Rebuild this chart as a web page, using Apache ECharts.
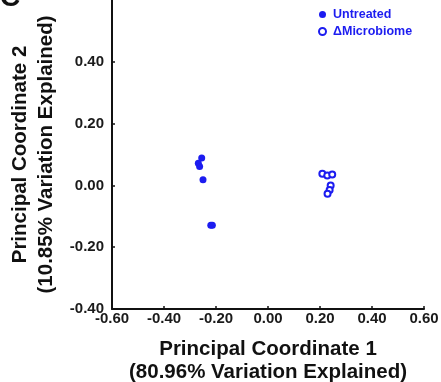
<!DOCTYPE html>
<html><head><meta charset="utf-8">
<script src="https://cdn.jsdelivr.net/npm/echarts@6/dist/echarts.min.js"></script>
<style>html,body{margin:0;padding:0;background:#fff}#c{width:441px;height:382px}</style>
</head><body><div id="c"></div>
<script>
const untreatedX = [-0.255, -0.268, -0.263, -0.250, -0.220, -0.214];
const untreatedY = [0.089, 0.072, 0.061, 0.018, -0.129, -0.129];
const microbiomeX = [0.209, 0.228, 0.247, 0.241, 0.237, 0.229];
const microbiomeY = [0.038, 0.032, 0.035, 0.000, -0.015, -0.027];
const seriesNames = ['Untreated', '\u0394Microbiome'];
const xTitle = 'Principal Coordinate 1\n(80.96% Variation Explained)';
const yTitle = 'Principal Coordinate 2\n(10.85% Variation Explained)';

const blue = '#1c1cf0';
const font = '"Liberation Sans", Arial, sans-serif';
const chart = echarts.init(document.getElementById('c'));
const zip = (a, b) => a.map((v, i) => [v, b[i]]);
chart.setOption({
  animation: false,
  backgroundColor: '#fff',
  graphic: [{type: 'text', left: 0, top: -16, style: {text: 'C', font: 'bold 28px ' + font, fill: '#111'}}],
  legend: {
    orient: 'vertical', left: 313, top: 3, itemWidth: 7, itemHeight: 7, itemGap: 4,
    data: seriesNames,
    textStyle: {color: blue, fontWeight: 'bold', fontSize: 12.5, fontFamily: font, padding: [0, 0, 0, 2]}
  },
  grid: {left: 112, right: 17, top: 0, bottom: 73, outerBoundsMode: 'none', containLabel: false},
  xAxis: {
    type: 'value', min: -0.6, max: 0.6, interval: 0.2,
    name: xTitle, nameLocation: 'middle', nameGap: 29,
    nameTextStyle: {fontSize: 20.5, fontWeight: 'bold', fontFamily: font, color: '#111', lineHeight: 23, verticalAlign: 'top'},
    axisLine: {onZero: false, lineStyle: {color: '#111', width: 2}},
    axisTick: {inside: true, length: 3, lineStyle: {color: '#111', width: 1.5}},
    axisLabel: {formatter: v => v.toFixed(2), fontSize: 15, fontWeight: 'bold', fontFamily: font, color: '#1a1a1a', margin: 2},
    splitLine: {show: false}
  },
  yAxis: {
    type: 'value', min: -0.4, max: 0.6, interval: 0.2,
    name: yTitle, nameLocation: 'middle', nameGap: 53, nameRotate: 90,
    nameTextStyle: {fontSize: 20.5, fontWeight: 'bold', fontFamily: font, color: '#111', lineHeight: 26},
    axisLine: {onZero: false, lineStyle: {color: '#111', width: 2}},
    axisTick: {inside: true, length: 3, lineStyle: {color: '#111', width: 1.5}},
    axisLabel: {formatter: v => v.toFixed(2), showMaxLabel: false, fontSize: 15, fontWeight: 'bold', fontFamily: font, color: '#1a1a1a', margin: 8},
    splitLine: {show: false}
  },
  series: [
    {name: seriesNames[0], type: 'scatter', symbol: 'circle', symbolSize: 7,
     itemStyle: {color: blue, opacity: 1}, data: zip(untreatedX, untreatedY)},
    {name: seriesNames[1], type: 'scatter', symbol: 'emptyCircle', symbolSize: 6,
     itemStyle: {color: blue, borderColor: blue, borderWidth: 1.3, opacity: 1}, data: zip(microbiomeX, microbiomeY)}
  ]
});
</script></body></html>
